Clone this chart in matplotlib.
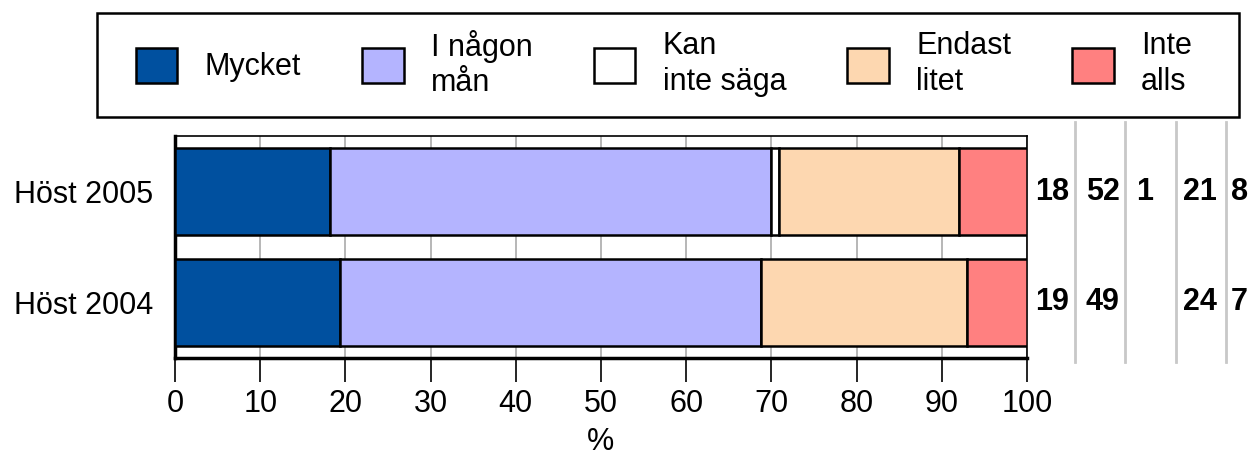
import matplotlib
matplotlib.use("Agg")
import matplotlib.pyplot as plt
from matplotlib.patches import Patch, Rectangle
from matplotlib.lines import Line2D

plt.rcParams['font.family'] = ['Liberation Sans', 'DejaVu Sans']

years = ['Höst 2004', 'Höst 2005']
categories = ['Mycket', 'I någon\nmån', 'Kan\ninte säga', 'Endast\nlitet', 'Inte\nalls']
colors = ['#00509F', '#B4B4FF', '#FFFFFF', '#FDD7B0', '#FF8080']

# percentages per category, in order [2004, 2005]
mycket = [19.4, 18.2]
nagon = [49.4, 51.8]
kan_inte = [0.0, 0.9]
endast = [24.2, 21.1]
inte = [7.0, 8.0]
series = [mycket, nagon, kan_inte, endast, inte]

W, H = 1253, 457
fs = 22
fig = plt.figure(figsize=(W / 100, H / 100), dpi=100)
ax = fig.add_axes([175/W, 1 - 358/H, (1027-175)/W, (358-136)/H])

y = range(len(years))
left = [0.0] * len(years)
for vals, c in zip(series, colors):
    ax.barh(y, vals, left=left, height=0.775, color=c, edgecolor='black',
            linewidth=1.8, zorder=3)
    left = [l + v for l, v in zip(left, vals)]

ax.set_xlim(0, 100)
ax.set_ylim(-0.5, 1.5)
ax.set_xticks(range(0, 101, 10))
ax.set_yticks(list(y))
ax.set_yticklabels(years)
ax.tick_params(axis='x', length=17, width=1.2, direction='out', labelsize=fs, pad=5)
ax.tick_params(axis='y', length=0, labelsize=fs, pad=16)
ax.xaxis.grid(True, color='#aaaaaa', linewidth=1.2, zorder=0)
ax.set_axisbelow(True)
ax.set_xlabel('%', fontsize=fs, labelpad=6)
for s in ['left', 'bottom']:
    ax.spines[s].set_linewidth(2.5)
for s in ['top', 'right']:
    ax.spines[s].set_linewidth(1.2)

# value columns to the right
col_x = [102.9, 108.9, 113.8, 120.3, 124.9]
for i in range(len(years)):
    for j, vals in enumerate(series):
        v = round(vals[i])
        if v > 0:
            ax.text(col_x[j], i, str(v), ha='center', va='center', fontsize=fs,
                    fontweight='bold', clip_on=False)
for px in [1075, 1125, 1176, 1226]:
    fig.add_artist(Line2D([px/W, px/W], [1 - 362/H, 1 - 122/H],
                          color='#c8c8c8', linewidth=2))

# legend
handles = [Patch(facecolor=c, edgecolor='black', linewidth=1.8) for c in colors]
leg = fig.legend(handles, categories, loc='center', ncol=5,
                 bbox_to_anchor=(664/W, 1 - 64/H), fontsize=fs,
                 frameon=False, handlelength=1.35, handleheight=1.4,
                 handletextpad=0.9, columnspacing=2.0, borderpad=0.3)
for t in leg.get_texts():
    t.set_linespacing(1.25)
fig.add_artist(Rectangle((97/W, 1 - 117/H), (1239-97)/W, (117-13)/H,
                         transform=fig.transFigure, facecolor='none',
                         edgecolor='black', linewidth=1.8))

fig.savefig('out.png', dpi=100)
